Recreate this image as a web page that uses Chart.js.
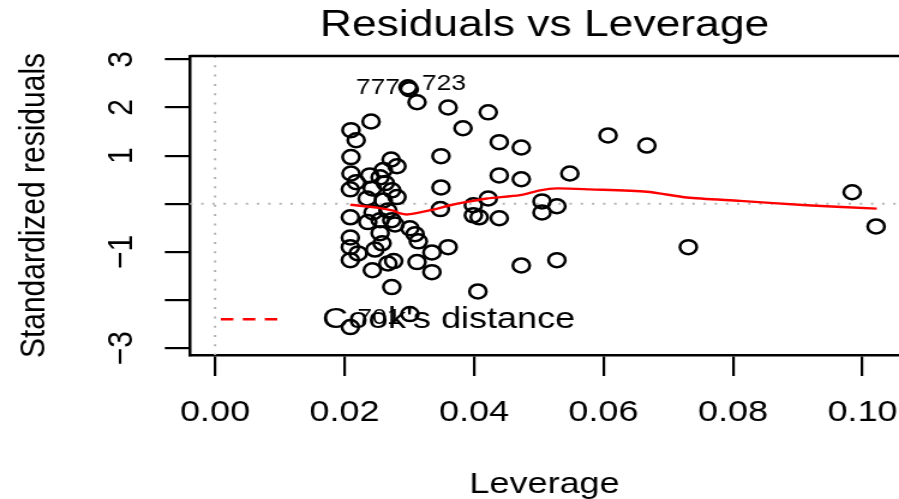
<!DOCTYPE html>
<html>
<head>
<meta charset="utf-8">
<title>Residuals vs Leverage</title>
<script src="https://cdn.jsdelivr.net/npm/chart.js@4.4.0/dist/chart.umd.min.js"></script>
<style>
  html, body { margin: 0; padding: 0; background: #fff; overflow: hidden; }
  /* the reference plot is stretched sideways, so the canvas is too */
  #wrap { width: 749px; height: 499px; transform: scaleX(1.2003); transform-origin: 0 0; }
</style>
</head>
<body>
<div id="wrap"><canvas id="rvl" width="749" height="499"></canvas></div>
<script>
// Leverage (hat values) of each observation
const leverage = [
  0.0298, 0.0300, 0.0312, 0.0360, 0.0241, 0.0210, 0.0218, 0.0210, 0.0349, 0.0272,
  0.0281, 0.0210, 0.0239, 0.0260, 0.0255, 0.0218, 0.0209, 0.0263, 0.0243, 0.0273,
  0.0281, 0.0235, 0.0349, 0.0260, 0.0209, 0.0244, 0.0267, 0.0348, 0.0255, 0.0273,
  0.0236, 0.0278, 0.0255, 0.0301, 0.0309, 0.0314, 0.0209, 0.0209, 0.0221, 0.0247,
  0.0258, 0.0335, 0.0360, 0.0209, 0.0276, 0.0267, 0.0312, 0.0243, 0.0335, 0.0273,
  0.0301, 0.0209, 0.0422, 0.0383, 0.0439, 0.0473, 0.0607, 0.0667, 0.0439, 0.0473,
  0.0548, 0.0399, 0.0422, 0.0505, 0.0528, 0.0505, 0.0399, 0.0408, 0.0439, 0.0984,
  0.1021, 0.0731, 0.0473, 0.0528, 0.0406
];

// Standardized residuals, same order
const stdResiduals = [
  2.42, 2.38, 2.11, 2.00, 1.71, 1.53, 1.32, 0.97, 0.99, 0.92,
  0.78, 0.63, 0.59, 0.70, 0.55, 0.45, 0.30, 0.43, 0.32, 0.28,
  0.14, 0.11, 0.34, 0.07, -0.28, -0.18, -0.14, -0.11, -0.34, -0.34,
  -0.38, -0.43, -0.61, -0.51, -0.63, -0.78, -0.70, -0.90, -1.03, -0.95,
  -0.82, -1.01, -0.90, -1.17, -1.19, -1.24, -1.21, -1.38, -1.42, -1.73,
  -2.29, -2.56, 1.90, 1.57, 1.28, 1.17, 1.42, 1.21, 0.59, 0.51,
  0.63, -0.03, 0.11, 0.05, -0.05, -0.18, -0.24, -0.28, -0.30, 0.24,
  -0.47, -0.90, -1.28, -1.17, -1.82
];

// Red smoother
const smoothLeverage = [0.0209, 0.0250, 0.0275, 0.0286, 0.0298, 0.0337, 0.0363, 0.0389, 0.0420,
  0.0471, 0.0502, 0.0528, 0.0579, 0.0667, 0.0729, 0.0811, 0.0914, 0.1022];
const smoothResiduals = [-0.02, -0.08, -0.14, -0.20, -0.22, -0.12, -0.03, 0.04, 0.11,
  0.18, 0.28, 0.32, 0.30, 0.25, 0.13, 0.06, -0.03, -0.10];

// Labelled observations (index into the arrays above)
const idPoints = [0, 1, 51];
const idLabels = ['777', '723', '701'];

const xTickValues = [0, 0.02, 0.04, 0.06, 0.08, 0.10];
const xTickLabels = ['0.00', '0.02', '0.04', '0.06', '0.08', '0.10'];
const yTickValues = [-3, -2, -1, 0, 1, 2, 3];
const yTickLabels = ['\u22123', '', '\u22121', '', '1', '2', '3'];

const xMin = -0.00386, xMax = 0.10564;
const yMin = -3.14, yMax = 3.07;
const hLineAt = 0, vLineAt = 0;

// styling
const FONT = 'Liberation Sans, Arial, sans-serif';
const idStyle = [
  { align: 'right', dx: -6.7, dy: 1 },
  { align: 'left', dx: 10.6, dy: -5 },
  { align: 'left', dx: 5.8, dy: -9 }
];

const rPlotPlugin = {
  id: 'rPlot',
  beforeDatasetsDraw(chart) {
    const { ctx, chartArea: a, scales: { x, y } } = chart;
    ctx.save();
    ctx.strokeStyle = '#b4b4b4';
    ctx.lineWidth = 2;
    ctx.setLineDash([2, 7.3]);
    const py = y.getPixelForValue(hLineAt);
    ctx.beginPath(); ctx.moveTo(a.left, py); ctx.lineTo(a.right, py); ctx.stroke();
    const px = x.getPixelForValue(vLineAt);
    ctx.beginPath(); ctx.moveTo(px, a.top); ctx.lineTo(px, a.bottom); ctx.stroke();
    ctx.restore();
  },
  afterDatasetsDraw(chart) {
    const { ctx, chartArea: a, scales: { x, y } } = chart;
    ctx.save();

    // top edge of the box
    ctx.strokeStyle = '#000';
    ctx.lineWidth = 2.5;
    ctx.beginPath(); ctx.moveTo(a.left, a.top); ctx.lineTo(a.right, a.top); ctx.stroke();

    // id labels
    ctx.fillStyle = '#000';
    ctx.font = `22px ${FONT}`;
    ctx.textBaseline = 'middle';
    idPoints.forEach((idx, i) => {
      const st = idStyle[i];
      ctx.textAlign = st.align;
      ctx.fillText(idLabels[i], x.getPixelForValue(leverage[idx]) + st.dx, y.getPixelForValue(stdResiduals[idx]) + st.dy);
    });

    // legend, bottom left, no box
    const ly = a.bottom - 35.7;
    ctx.strokeStyle = '#ff0000';
    ctx.lineWidth = 2.4;
    ctx.setLineDash([10.4, 7.9]);
    ctx.beginPath(); ctx.moveTo(a.left + 25.7, ly); ctx.lineTo(a.left + 74, ly); ctx.stroke();
    ctx.setLineDash([]);
    ctx.font = `30px ${FONT}`;
    ctx.textAlign = 'left';
    ctx.fillText("Cook's distance", a.left + 110, ly);
    ctx.restore();
  }
};

const ctx = document.getElementById('rvl');

new Chart(ctx, {
  type: 'scatter',
  data: {
    datasets: [
      {
        label: 'smooth',
        data: smoothLeverage.map((v, i) => ({ x: v, y: smoothResiduals[i] })),
        showLine: true,
        borderColor: '#ff0000',
        borderWidth: 2.4,
        pointRadius: 0,
        tension: 0.25,
        order: 0
      },
      {
        label: 'residuals',
        data: leverage.map((v, i) => ({ x: v, y: stdResiduals[i] })),
        pointStyle: 'circle',
        pointRadius: 7,
        pointBorderWidth: 2.5,
        pointBorderColor: '#000',
        pointBackgroundColor: 'rgba(0,0,0,0)',
        order: 1
      }
    ]
  },
  options: {
    responsive: false,
    animation: false,
    events: [],
    layout: { padding: 0, autoPadding: false },
    plugins: {
      legend: { display: false },
      tooltip: { enabled: false },
      title: {
        display: true,
        text: 'Residuals vs Leverage',
        fullSize: false,
        color: '#000',
        font: { family: FONT, size: 37, weight: 'normal', lineHeight: 1.2 },
        padding: { top: 3.8, bottom: 7.8 }
      }
    },
    scales: {
      x: {
        type: 'linear',
        position: 'bottom',
        min: xMin,
        max: xMax,
        afterBuildTicks: s => { s.ticks = xTickValues.map(v => ({ value: v })); },
        afterFit: s => { s.height = 144; s.paddingLeft = 0; s.paddingRight = 0; },
        ticks: {
          callback: (v, i) => xTickLabels[i],
          autoSkip: false,
          maxRotation: 0,
          color: '#000',
          padding: 19,
          font: { family: FONT, size: 30 }
        },
        grid: { drawOnChartArea: false, tickLength: 21, color: '#000', lineWidth: 2.2 },
        border: { display: true, color: '#000', width: 2.5 },
        title: {
          display: true,
          text: 'Leverage',
          color: '#000',
          font: { family: FONT, size: 30, lineHeight: 1 },
          padding: { top: 0, bottom: -1 }
        }
      },
      y: {
        type: 'linear',
        position: 'left',
        min: yMin,
        max: yMax,
        afterBuildTicks: s => { s.ticks = yTickValues.map(v => ({ value: v })); },
        afterFit: s => { s.width = 158.3; s.paddingTop = 0; s.paddingBottom = 0; },
        ticks: {
          callback: (v, i) => yTickLabels[i],
          autoSkip: false,
          minRotation: 90,
          maxRotation: 90,
          crossAlign: 'center',
          color: '#000',
          padding: 18.2,
          font: { family: FONT, size: 30 }
        },
        grid: { drawOnChartArea: false, tickLength: 21, color: '#000', lineWidth: 2.2 },
        border: { display: true, color: '#000', width: 2.5 },
        title: {
          display: true,
          text: 'Standardized residuals',
          color: '#000',
          font: { family: FONT, size: 30, lineHeight: 1.2 },
          padding: { top: 10.5, bottom: 0 }
        }
      }
    }
  },
  plugins: [rPlotPlugin]
});
</script>
</body>
</html>
